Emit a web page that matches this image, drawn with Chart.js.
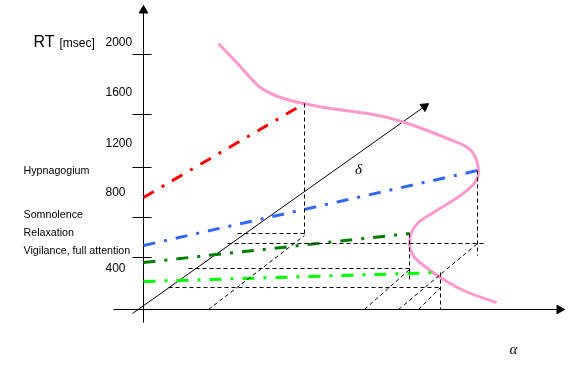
<!DOCTYPE html>
<html>
<head>
<meta charset="utf-8">
<script src="https://cdn.jsdelivr.net/npm/chart.js@4"></script>
<style>
    html, body { margin: 0; padding: 0; background: #fff; }
    #wrap { width: 578px; height: 367px; position: relative; }
</style>
</head>
<body>
<div id="wrap"><canvas id="chart"></canvas></div>
<script>
// diagram units: x = alpha to the right of the RT axis, y = height above the alpha axis

// ── RT axis ──
const rtTicks = [255, 195, 142, 92, 52];
const rtLabels = ['2000', '1600', '1200', '800', '400'];
const rtLabelPos = [267, 217, 166, 117, 41];

const states = ['Hypnagogium', 'Somnolence', 'Relaxation', 'Vigilance, full attention'];
const statePos = [136, 92, 74, 56];

// ── state lines (RT vs delta) ──
const hypnagogium = [[0, 112], [161, 206]];
const somnolence = [[0, 64], [334, 139]];
const relaxation = [[0, 47], [266, 76]];
const vigilance = [[0, 28], [297, 37]];

// ── alpha curve ──
const alphaCurve = [
    [75, 266], [94, 246], [117, 222], [137, 212], [160, 206], [187, 201],
    [224, 196], [244, 192], [270, 184], [304, 171], [324, 162], [332, 152],
    [335, 139], [334, 132], [329, 124], [314, 112], [290, 97], [275, 87],
    [268, 77], [266, 66], [268, 57], [274, 49], [297, 32], [320, 19], [353, 7]
];

// ── projection lines ──
const projections = [
    [[161, 206], [161, 76]], [[94, 76], [161, 76]], [[65, 0], [161, 74]],
    [[84, 66], [340, 66]], [[334, 139], [334, 54]], [[255, 0], [334, 66]],
    [[45, 41], [266, 41]], [[266, 76], [266, 29]], [[221, 0], [266, 40]],
    [[25, 22], [297, 22]], [[297, 37], [297, 0]], [[275, 0], [297, 22]]
];

// ── axes ──
const rtAxis = [[0, -13], [0, 298]];
const alphaAxis = [[-30, 0], [416, 0]];
const deltaAxis = [[-11, -4], [281, 203]];
const arrowHeads = [[0, 299, 0], [416, 0, 90], [281, 203, 55]];

const pts = arr => arr.map(([x, y]) => ({ x, y }));
const segs = list => list.flatMap(s => [...pts(s), { x: s[1][0], y: null }]);

const stateDash = [12, 9, 3, 9];

function lineSet(data, color, width, dash) {
    return {
        data, showLine: true, borderColor: color, borderWidth: width,
        borderDash: dash || [], pointRadius: 0, spanGaps: false, tension: 0,
    };
}

const tickSegs = rtTicks.map(t => [[-11, t], [8, t]]);

const textPlugin = {
    id: 'texts',
    afterDraw(chart) {
        const { ctx, scales: { x, y } } = chart;
        ctx.save();
        ctx.fillStyle = '#000';
        ctx.textBaseline = 'alphabetic';
        ctx.textAlign = 'left';
        ctx.font = '16px "Liberation Sans", Arial, sans-serif';
        ctx.fillText('RT', x.getPixelForValue(-110), y.getPixelForValue(263));
        ctx.font = '12px "Liberation Sans", Arial, sans-serif';
        ctx.fillText('[msec]', x.getPixelForValue(-84), y.getPixelForValue(263));

        ctx.textBaseline = 'middle';
        rtLabels.forEach((t, i) => {
            ctx.fillText(t, x.getPixelForValue(-38), y.getPixelForValue(rtLabelPos[i]));
        });

        ctx.textBaseline = 'alphabetic';
        ctx.font = '10.7px "Liberation Sans", Arial, sans-serif';
        states.forEach((s, i) => {
            ctx.fillText(s, x.getPixelForValue(-120), y.getPixelForValue(statePos[i]));
        });

        ctx.textAlign = 'center';
        ctx.textBaseline = 'middle';
        ctx.font = 'italic 15px "Liberation Serif", serif';
        ctx.fillText('\u03b4', x.getPixelForValue(215), y.getPixelForValue(139));
        ctx.fillText('\u03b1', x.getPixelForValue(370), y.getPixelForValue(-41));
        ctx.restore();
    }
};

new Chart(document.getElementById('chart'), {
    type: 'scatter',
    data: {
        datasets: [
            lineSet(segs(projections), '#000', 1, [4, 3]),
            lineSet(pts(hypnagogium), '#ff0000', 3, stateDash),
            lineSet(pts(somnolence), '#3366ff', 3, stateDash),
            lineSet(pts(relaxation), '#008000', 3, stateDash),
            lineSet(pts(vigilance), '#00ff00', 3, stateDash),
            Object.assign(lineSet(pts(alphaCurve), '#ff99cc', 3), { tension: 0.35 }),
            lineSet(segs([rtAxis, alphaAxis]), '#000', 1),
            lineSet(segs(tickSegs), '#000', 1),
            lineSet(pts(deltaAxis), '#000', 1),
            {
                data: arrowHeads.map(([x, y]) => ({ x, y })),
                pointStyle: 'triangle',
                pointRadius: 5,
                rotation: arrowHeads.map(a => a[2]),
                backgroundColor: '#000',
                borderColor: '#000',
                borderWidth: 1,
            },
        ]
    },
    options: {
        responsive: true,
        maintainAspectRatio: false,
        animation: false,
        layout: { padding: 0, autoPadding: false },
        plugins: { legend: { display: false }, tooltip: { enabled: false } },
        scales: {
            // half-unit offset keeps the 1px axis lines on the pixel grid
            x: { type: 'linear', min: -143.5, max: 434.5, display: false },
            y: { type: 'linear', min: -57.5, max: 309.5, display: false }
        }
    },
    plugins: [textPlugin]
});
</script>
</body>
</html>
